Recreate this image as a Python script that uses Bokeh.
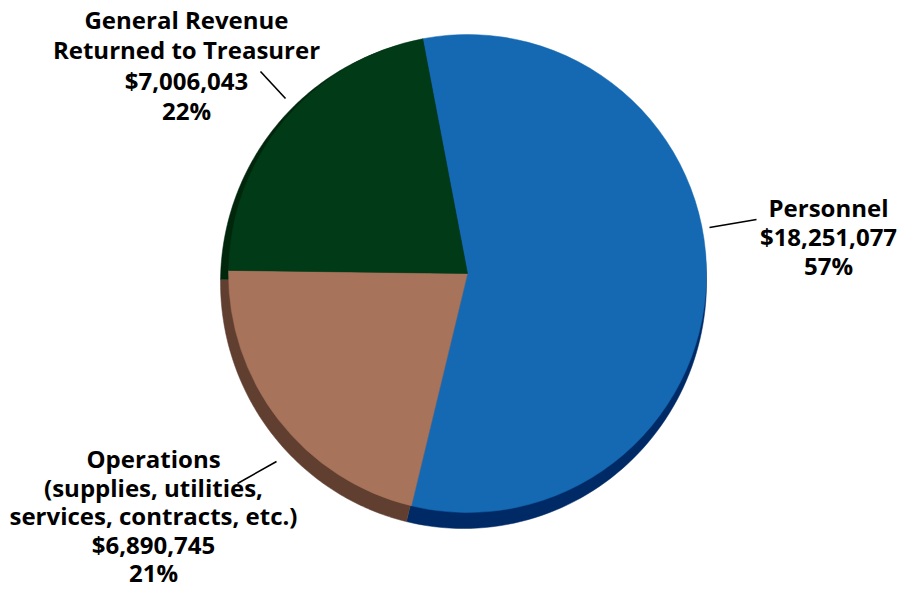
import math
from bokeh.plotting import figure
from bokeh.models import Range1d
from bokeh.core.properties import value
from bokeh.embed import file_html
from bokeh.resources import INLINE

# ---- data ----
categories = ["Personnel", "Operations", "General Revenue Returned to Treasurer"]
amounts = [18251077, 6890745, 7006043]
face_colors = ["#1569b3", "#a8735b", "#003a17"]
shadow_colors = ["#002a66", "#613f30", "#00260c"]
label_lines = [
    ["Personnel", "$18,251,077", "57%"],
    ["Operations", "(supplies, utilities,", "services, contracts, etc.)", "$6,890,745", "21%"],
    ["General Revenue", "Returned to Treasurer", "$7,006,043", "22%"],
]

# ---- layout (screen px -> data, y up) ----
W, HT = 905, 591
def sy(y):
    return HT - y

p = figure(width=W, height=HT, output_backend="svg", toolbar_location=None,
           x_range=Range1d(0, W), y_range=Range1d(0, HT),
           x_axis_location=None, y_axis_location=None, min_border=0)
p.grid.visible = False
p.outline_line_color = None
p.background_fill_color = "white"
p.border_fill_color = "white"

cx, cy, r = 467, 273, 239
shx, shy, shrx, shry = 463, 282, 243, 246
start_cw = -10.8  # degrees clockwise from top

total = float(sum(amounts))
starts, ends = [], []
acc = start_cw
for a in amounts:
    span = 360.0 * a / total
    starts.append(math.radians(90 - acc))
    ends.append(math.radians(90 - (acc + span)))
    acc += span

# shadow (extrusion) as elliptical slices
xs, ys = [], []
for s, e in zip(starts, ends):
    n = 120
    px, py = [shx], [sy(shy)]
    for k in range(n + 1):
        t = s + (e - s) * k / n
        px.append(shx + shrx * math.cos(t))
        py.append(sy(shy) + shry * math.sin(t))
    xs.append(px)
    ys.append(py)
p.patches(xs=xs, ys=ys, fill_color=shadow_colors, line_color=shadow_colors, line_width=0.5)

# face
for s, e, c in zip(starts, ends, face_colors):
    p.wedge(x=cx, y=sy(cy), radius=r, start_angle=s, end_angle=e,
            direction="clock", fill_color=c, line_color=c, line_width=0.5)

# leader lines
leaders = [((709, 227), (756, 219)), ((237, 483), (276, 461)), ((260, 71), (285, 98))]
for (x0, y0), (x1, y1) in leaders:
    p.segment(x0=x0, y0=sy(y0), x1=x1, y1=sy(y1), line_color="black", line_width=1.6)

# labels (baseline compensation of ~10px for the renderer)
shift = -10
label_x = [828, 153, 186]
label_base = [217, 468, 29]
spacing = [29, 28.6, 30.3]
for lines, lx, lb, sp in zip(label_lines, label_x, label_base, spacing):
    for i, t in enumerate(lines):
        p.text(x=[lx], y=[sy(lb + i * sp + shift)], text=[t], text_align="center",
               text_baseline="alphabetic", text_font=value("Open Sans"),
               text_font_style="bold", text_font_size="24px", text_color="black")

open("out.html", "w").write(file_html(p, INLINE))
